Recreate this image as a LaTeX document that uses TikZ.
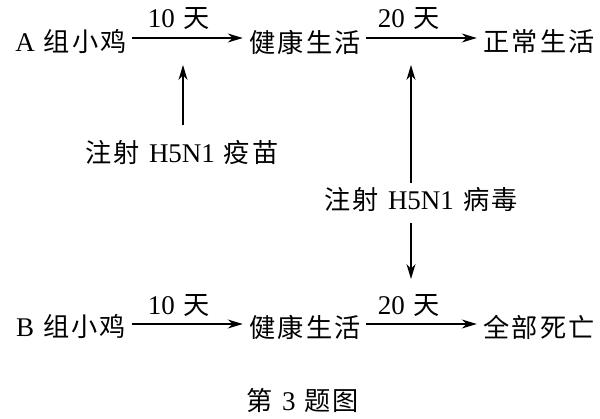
\documentclass[tikz,border=0pt]{standalone}
\usepackage{fontspec}
\setmainfont{Liberation Serif}
\newfontfamily\cjk{Noto Sans CJK SC}[Scale=0.97,LetterSpace=8]
\usetikzlibrary{arrows.meta}
\newcommand{\zh}[1]{{\cjk #1}}
\newcommand{\gp}{\hspace{9pt}}
\begin{document}
\begin{tikzpicture}[x=1pt,y=-1pt,
  lbl/.style={inner sep=0pt, font=\fontsize{27}{29}\selectfont, anchor=center},
  arr/.style={line width=1.2pt, -{Stealth[length=15pt,width=9pt]}},
  harr/.style={arr, shorten <=5.5pt, shorten >=6.5pt},
  dur/.style={inner sep=0pt, font=\fontsize{27}{29}\selectfont}]
\useasboundingbox (0,0) rectangle (600,419);
\node[lbl] (a1) at (71,42) {A\gp\zh{组小鸡}};
\node[lbl] (a2) at (305,42) {\zh{健康生活}};
\node[lbl] (a3) at (539,42) {\zh{正常生活}};
\node[lbl] (b1) at (71,327) {B\gp\zh{组小鸡}};
\node[lbl] (b2) at (305,327) {\zh{健康生活}};
\node[lbl] (b3) at (539,327) {\zh{全部死亡}};
\node[lbl] (v) at (182,152) {\zh{注射}\gp H5N1\gp\zh{疫苗}};
\node[lbl] (w) at (421,200) {\zh{注射}\gp H5N1\gp\zh{病毒}};
\node[lbl] (cap) at (303,400) {\zh{第}\gp 3\gp\zh{题图}};
\coordinate (c1) at (183,65);
\coordinate (c2) at (411,65);
\coordinate (c3) at (411,279);
\draw[harr] ([yshift=4pt]a1.east) -- ([yshift=4pt]a2.west);
\draw[harr] ([yshift=4pt]a2.east) -- ([yshift=4pt]a3.west);
\draw[harr] ([yshift=3pt]b1.east) -- ([yshift=3pt]b2.west);
\draw[harr] ([yshift=3pt]b2.east) -- ([yshift=3pt]b3.west);
\node[dur] (l1) at (179,19) {10\gp\zh{天}};
\node[dur] (l2) at (409,19) {20\gp\zh{天}};
\node[dur] (l3) at (179,306) {10\gp\zh{天}};
\node[dur] (l4) at (409,306) {20\gp\zh{天}};
\draw[arr, shorten <=15pt] (v.north -| c1) -- (c1);
\draw[arr, shorten <=4.5pt] (w.north -| c2) -- (c2);
\draw[arr, shorten <=11pt] (w.south -| c3) -- (c3);
\end{tikzpicture}
\end{document}
